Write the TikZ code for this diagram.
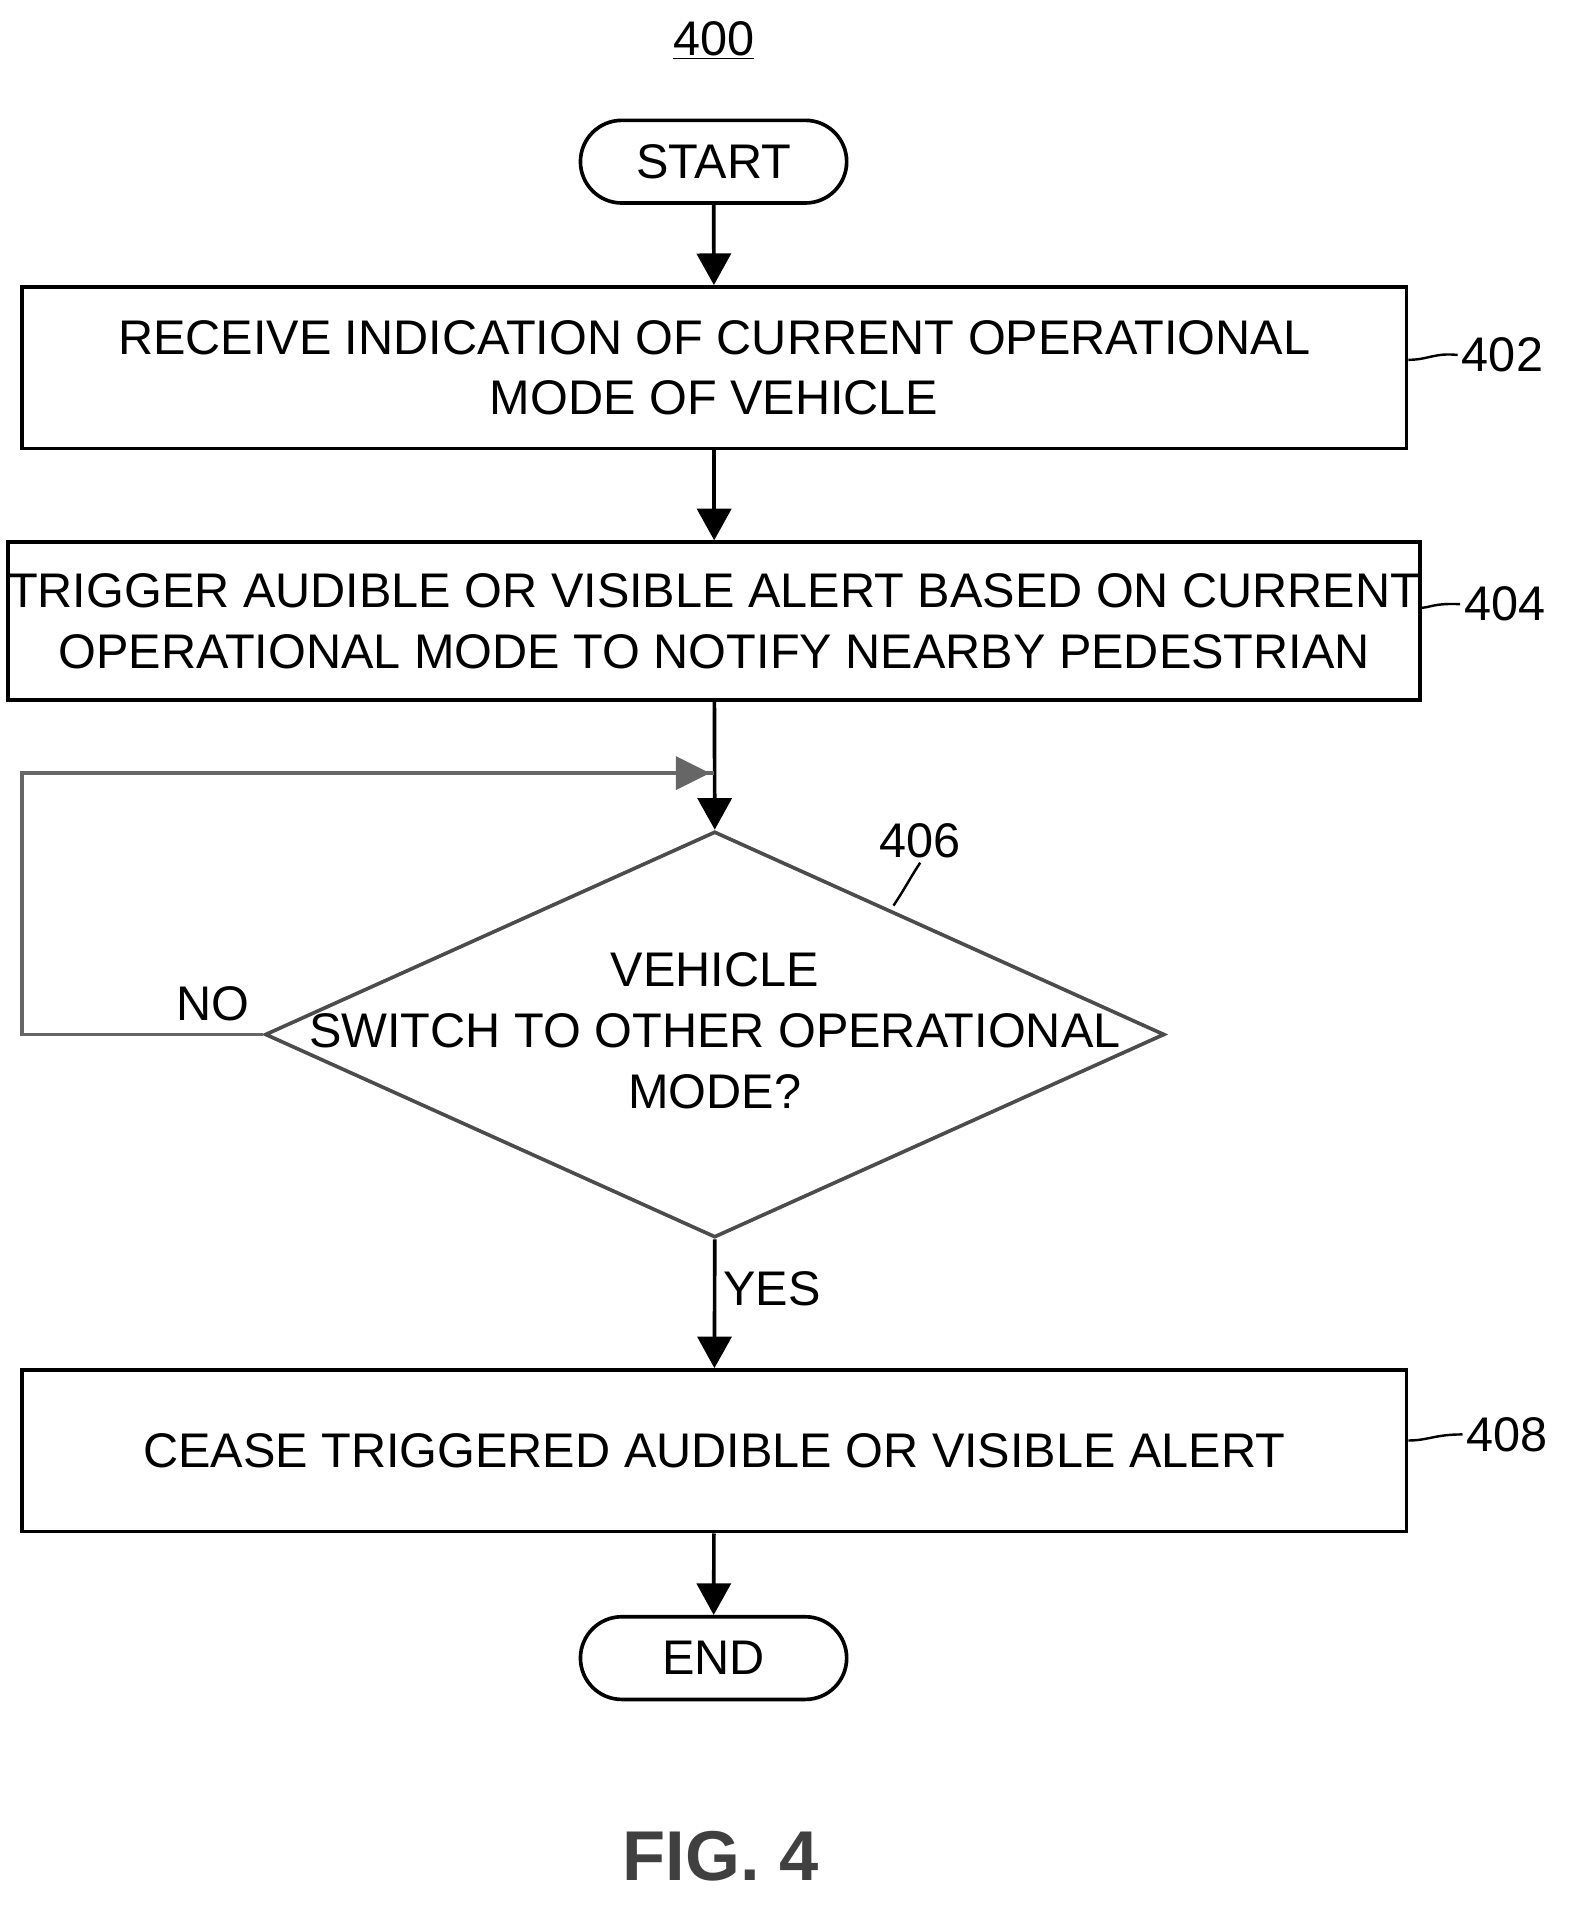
\documentclass[tikz,border=0pt]{standalone}
\usepackage{fontspec}
\setmainfont{Liberation Sans}
\usetikzlibrary{arrows.meta,shapes.geometric}
\begin{document}
\begin{tikzpicture}[x=1pt,y=-1pt,
  txt/.style={font=\fontsize{40}{50}\selectfont},
  box/.style={draw,line width=3pt,minimum width=1139pt,align=center,txt,inner sep=0pt},
  term/.style={draw,line width=3pt,rounded corners=34pt,minimum width=219pt,minimum height=68pt,txt},
  arr/.style={line width=3pt,-{Triangle[length=26pt,width=28pt]}},
  lead/.style={line width=2pt},
  lbl/.style={txt}]
\useasboundingbox (0,0) rectangle (1297,1577);
\node[txt] (t400) at (587,33) {\underline{400}};
\node[term] (start) at (587,133) {START};
\node[box,minimum height=133pt] (b402) at (587.5,302.5) {RECEIVE INDICATION OF CURRENT OPERATIONAL\\MODE OF VEHICLE};
\node[box,minimum height=130pt] (b404) at (587.5,511) {TRIGGER AUDIBLE OR VISIBLE ALERT BASED ON CURRENT\\OPERATIONAL MODE TO NOTIFY NEARBY PEDESTRIAN};
\node[draw=black!70,line width=3pt,diamond,aspect=2.2156,minimum width=740pt,minimum height=334pt,inner sep=0pt] (d406) at (588,851) {};
\node[txt,align=center] (dt) at (588,848) {VEHICLE\\SWITCH TO OTHER OPERATIONAL\\MODE?};
\node[box,minimum height=133pt] (b408) at (587.5,1193.5) {CEASE TRIGGERED AUDIBLE OR VISIBLE ALERT};
\node[term] (end) at (587,1364) {END};
\node[font=\bfseries\fontsize{58}{60}\selectfont,text=black!75] (fig) at (593,1527) {FIG. 4};
\node[lbl] (l402) at (1236,292) {402};
\node[lbl] (l404) at (1238,497) {404};
\node[lbl] (l406) at (757,692) {406};
\node[lbl] (l408) at (1240,1180) {408};
\node[txt] (no) at (175,826) {NO};
\node[txt] (yes) at (635,1060) {YES};
\coordinate (c1) at (18,851);
\coordinate (c2) at (18,636);
\coordinate (c3) at (587,636);
\draw[arr] (start) -- (b402);
\draw[arr] (b402) -- (b404);
\draw[arr] (b404) -- (d406.north);
\draw[arr] (d406.south) -- (b408);
\draw[arr] (b408) -- (end);
\draw[line width=3pt,black!60] (d406.west) -- (c1) -- (c2) -- (c3);
\fill[black!60] (584,636) -- (556,622) -- (556,650) -- cycle;
\draw[lead] (b402.east|-0,296) .. controls (1175,296) and (1180,290) .. (l402.west);
\draw[lead] (b404.east|-0,500) .. controls (1175,500) and (1180,496) .. (l404.west);
\draw[lead] (b408.east|-0,1185) .. controls (1175,1185) and (1180,1180) .. (l408.west);
\draw[lead] (735,745) .. controls (745,730) and (750,720) .. (l406.south);
\end{tikzpicture}
\end{document}
